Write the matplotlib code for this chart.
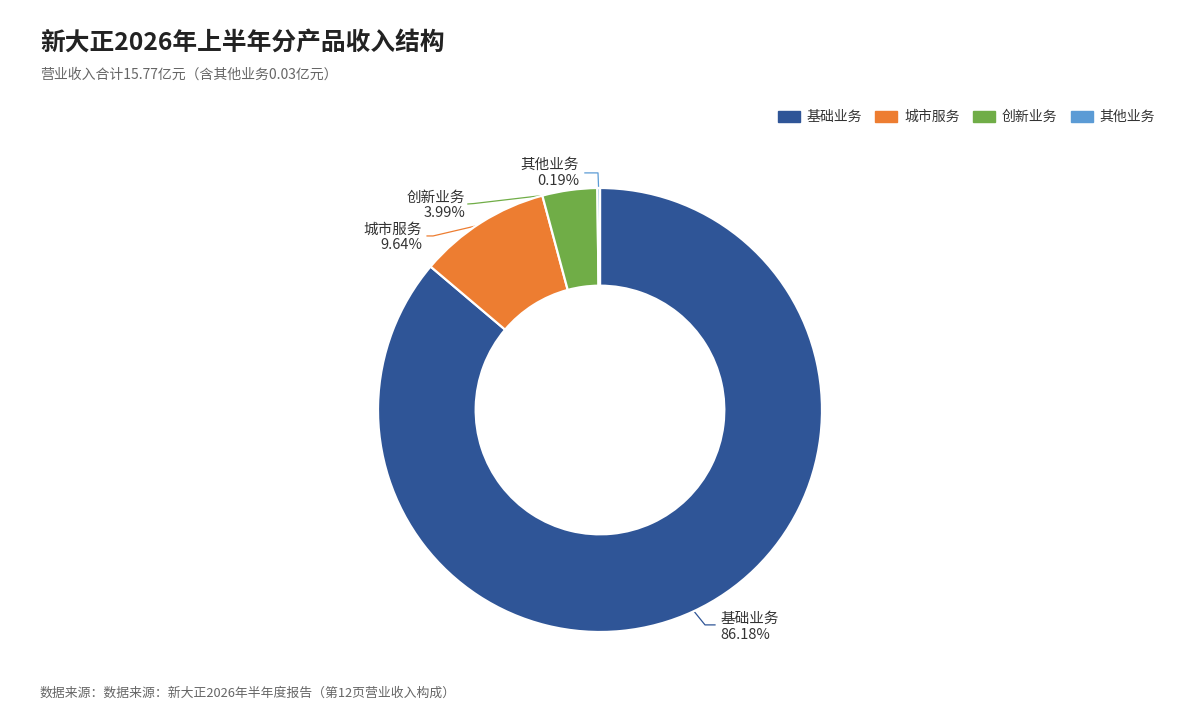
import matplotlib
matplotlib.use("Agg")
import numpy as np
import matplotlib.pyplot as plt
from matplotlib.patches import Patch

plt.rcParams['font.family'] = ['Noto Sans CJK SC', 'DejaVu Sans']

# data
categories = ["基础业务", "城市服务", "创新业务", "其他业务"]
shares = [86.18, 9.64, 3.99, 0.19]
colors = ["#2f5597", "#ed7d31", "#70ad47", "#5b9bd5"]

title = "新大正2026年上半年分产品收入结构"
subtitle = "营业收入合计15.77亿元（含其他业务0.03亿元）"
footer = "数据来源：数据来源：新大正2026年半年度报告（第12页营业收入构成）"

# label layout (elbow, end of leader, text anchor, alignment) in pie radius units
label_layout = [
    ((0.473, -0.968), (0.518, -0.968), (0.541, -0.977), "left"),
    ((-0.752, 0.784), (-0.779, 0.784), (-0.802, 0.779), "right"),
    ((-0.568, 0.930), (-0.595, 0.928), (-0.608, 0.923), "right"),
    ((-0.009, 1.068), (-0.068, 1.068), (-0.095, 1.068), "right"),
]

fig = plt.figure(figsize=(12, 7.2), dpi=100)
fig.patch.set_facecolor("white")

fig.text(40 / 1200, 1 - 43 / 720, title, fontsize=17.8, fontweight="bold",
         color="#222222", ha="left", va="center")
fig.text(40 / 1200, 1 - 75 / 720, subtitle, fontsize=10, color="#666666",
         ha="left", va="center")
fig.text(40 / 1200, 1 - 693 / 720, footer, fontsize=9.25, color="#666666",
         ha="left", va="center")

ax = fig.add_axes([350 / 1200, 60 / 720, 500 / 1200, 500 / 720])
wedges, _ = ax.pie(shares, colors=colors, startangle=90, counterclock=False,
                   radius=1.0,
                   wedgeprops=dict(width=0.44, edgecolor="white", linewidth=1.6))
for w in wedges:
    w.set_zorder(3)
lim = 250 / 222
ax.set_xlim(-lim, lim)
ax.set_ylim(-lim, lim)
ax.set_aspect("equal")
ax.axis("off")

# leader lines + labels
for w, name, val, col, (elbow, end, txt, ha) in zip(wedges, categories, shares, colors, label_layout):
    mid = np.deg2rad((w.theta1 + w.theta2) / 2)
    start = (np.cos(mid) * 0.99, np.sin(mid) * 0.99)
    ax.plot([start[0], elbow[0], end[0]], [start[1], elbow[1], end[1]],
            color=col, lw=0.9, zorder=2, clip_on=False)
    ax.text(txt[0], txt[1], f"{name}\n{val:.2f}%", ha=ha, va="center",
            fontsize=10.5, color="#333333", linespacing=1.12, clip_on=False)

handles = [Patch(facecolor=c, edgecolor=c, label=n) for n, c in zip(categories, colors)]
fig.legend(handles=handles, loc="center right", bbox_to_anchor=(1155 / 1200, 1 - 117 / 720),
           ncol=4, frameon=False, fontsize=10, handlelength=1.58, handleheight=0.86,
           handletextpad=0.5, columnspacing=0.95, borderaxespad=0, borderpad=0,
           labelcolor="#333333")

fig.savefig("out.png", dpi=100, facecolor="white")
